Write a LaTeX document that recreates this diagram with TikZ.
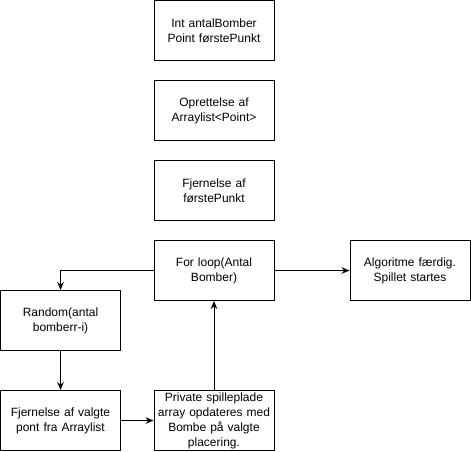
\documentclass[tikz,border=0pt]{standalone}
\usepackage{fontspec}
\setmainfont{Liberation Sans}
\usetikzlibrary{arrows.meta}
\tikzset{
  box/.style={draw, line width=0.75pt, minimum width=90pt, minimum height=45pt,
    text width=86pt, align=center, inner sep=1pt, font=\fontsize{9}{11.2}\selectfont},
  flow/.style={-{Stealth[length=6pt,width=5pt,inset=2pt]}, line width=0.75pt}
}
\begin{document}
\begin{tikzpicture}[x=0.75pt,y=-0.75pt]
\useasboundingbox (0,0) rectangle (471,451);

% setup
\node[box] (init) at (214,30.5) {Int antalBomber\\Point førstePunkt};
\node[box] (liste) at (214,110.5) {Oprettelse af\\Arraylist<Point>};
\node[box] (fjernfoerste) at (214,190.5) {Fjernelse af\\førstePunkt};

% loop
\node[box] (loop) at (214,270.5) {For loop(Antal\\Bomber)};
\node[box] (random) at (60.5,320.5) {Random(antal\\bomberr-i)};
\node[box] (fjernvalgt) at (60.5,420.5) {Fjernelse af valgte\\pont fra Arraylist};
\node[box] (privat) at (214,420.5) {Private spilleplade\\array opdateres med\\Bombe på valgte\\placering.};

% done
\node[box] (faerdig) at (410,270.5) {Algoritme færdig.\\Spillet startes};

\draw[flow] (loop.west) -| (random.north);
\draw[flow] (random) -- (fjernvalgt);
\draw[flow] (fjernvalgt) -- (privat);
\draw[flow] (privat) -- (loop);
\draw[flow] (loop) -- (faerdig);
\end{tikzpicture}
\end{document}
